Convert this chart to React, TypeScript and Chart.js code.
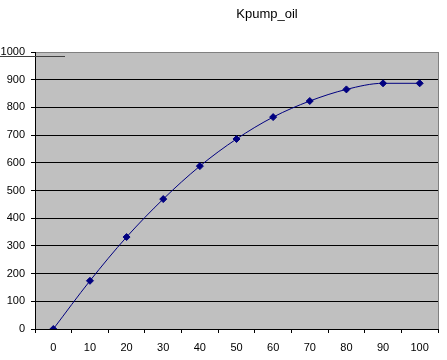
import React, { useEffect, useRef } from "react";
import { Chart, registerables } from "chart.js";

Chart.register(...registerables);

const categories = ["0", "10", "20", "30", "40", "50", "60", "70", "80", "90", "100"];
const kpumpOil = [0, 174, 332, 469, 588, 686, 765, 823, 865, 887, 887];
const titleText = "Kpump_oil";

const decorPlugin = {
  id: "decor",
  beforeDraw(chart: any) {
    const { ctx, chartArea } = chart;
    ctx.save();
    ctx.fillStyle = "#C0C0C0";
    ctx.fillRect(chartArea.left, chartArea.top, chartArea.right - chartArea.left, chartArea.bottom - chartArea.top);
    ctx.restore();
  },
  afterDraw(chart: any) {
    const { ctx, chartArea } = chart;
    ctx.save();
    ctx.strokeStyle = "#808080";
    ctx.lineWidth = 1;
    ctx.beginPath();
    ctx.moveTo(chartArea.right + 0.5, chartArea.top);
    ctx.lineTo(chartArea.right + 0.5, chartArea.bottom);
    ctx.stroke();
    ctx.strokeStyle = "#404040";
    ctx.beginPath();
    ctx.moveTo(0, 56.5);
    ctx.lineTo(65, 56.5);
    ctx.stroke();
    ctx.fillStyle = "#000000";
    ctx.font = "13px 'Liberation Sans', Arial, sans-serif";
    ctx.textAlign = "center";
    ctx.textBaseline = "middle";
    ctx.fillText(titleText, 267, 14);
    ctx.restore();
  },
};

export default function App() {
  const ref = useRef<HTMLCanvasElement>(null);
  useEffect(() => {
    document.body.style.margin = "0";
    const chart = new Chart(ref.current!, {
      type: "line",
      data: {
        labels: categories,
        datasets: [
          {
            data: kpumpOil,
            borderColor: "#000080",
            backgroundColor: "#000080",
            borderWidth: 1,
            pointStyle: "rectRot",
            pointRadius: 3.5,
            pointBorderWidth: 1,
            pointBorderColor: "#000080",
            pointBackgroundColor: "#000080",
            cubicInterpolationMode: "monotone",
            fill: false,
          },
        ],
      },
      options: {
        animation: false,
        responsive: false,
        layout: { padding: { top: 52, right: 9, left: 0, bottom: 0 } },
        plugins: { legend: { display: false }, title: { display: false }, tooltip: { enabled: false } },
        scales: {
          x: {
            offset: true,
            grid: {
              offset: true,
              drawOnChartArea: false,
              drawTicks: true,
              tickLength: 4,
              color: "#000000",
            },
            border: { display: true, color: "#000000", width: 1 },
            ticks: {
              color: "#000000",
              padding: 8,
              maxRotation: 0,
              autoSkip: false,
              font: { family: "'Liberation Sans', Arial, sans-serif", size: 11 },
            },
            afterFit(scale: any) {
              scale.height = 31;
            },
          },
          y: {
            min: 0,
            max: 1000,
            ticks: {
              stepSize: 100,
              color: "#000000",
              padding: 6,
              callback: (v: any) => String(v),
              font: { family: "'Liberation Sans', Arial, sans-serif", size: 11 },
            },
            grid: {
              color: (c: any) => (c.tick && c.tick.value === 1000 ? "#808080" : "#000000"),
              tickColor: "#000000",
              tickLength: 4,
              drawTicks: true,
            },
            border: { display: true, color: "#000000", width: 1 },
            afterFit(scale: any) {
              scale.width = 35;
            },
          },
        },
      },
      plugins: [decorPlugin],
    });
    return () => chart.destroy();
  }, []);
  return <canvas ref={ref} width={447} height={360} style={{ display: "block" }} />;
}
